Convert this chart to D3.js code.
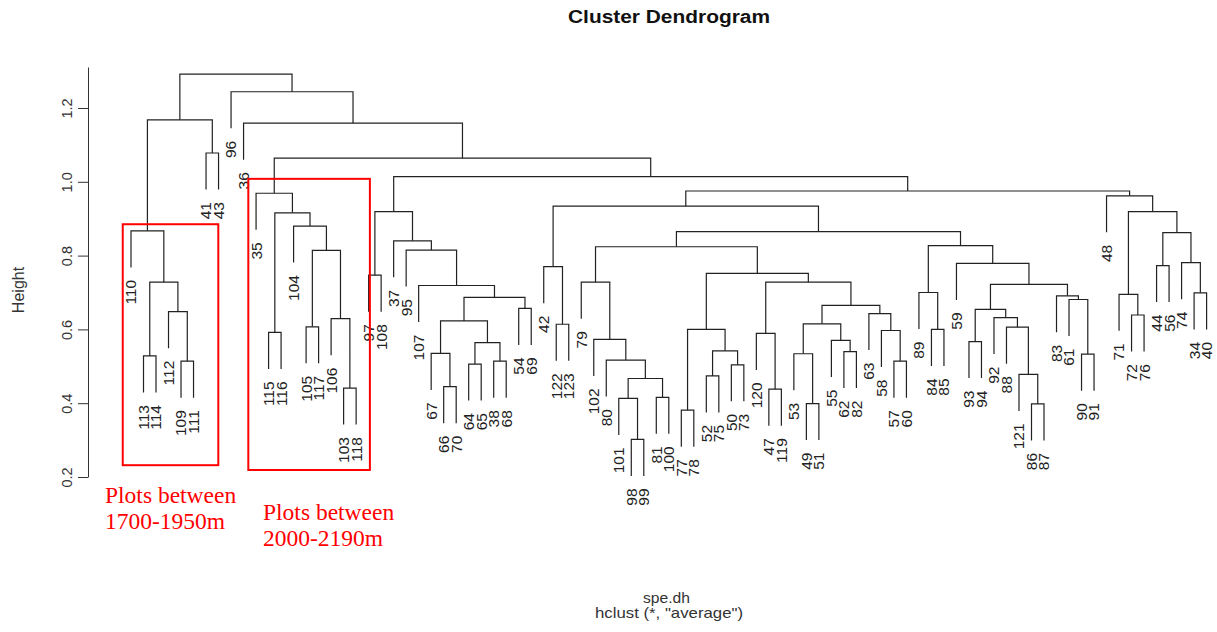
<!DOCTYPE html>
<html>
<head>
<meta charset="utf-8">
<script src="https://cdn.jsdelivr.net/npm/d3@7"></script>
<style>
  body { margin: 0; background: #fff; }
  svg { font-family: "Liberation Sans", Arial, sans-serif; }
</style>
</head>
<body>
<svg id="chart" width="1217" height="632"></svg>
<script>
// hclust merge table (R style):
// negative = leaf label, positive = earlier merge row (1-based)
const mergeLeft = [-113,-109,-112,1,-110,-41,5,-115,-105,-103,-106,9,-104,8,-35,-97,-66,-67,-64,-38,19,18,-54,22,-107,-95,-37,16,-122,-42,-98,-101,-81,32,-80,-102,-79,-77,-52,-50,39,38,-47,-120,-49,-53,-62,-55,46,-57,-58,-63,49,44,42,37,-84,-89,-93,-86,-121,-88,-92,59,-90,-61,-83,64,-59,58,56,30,-72,-71,-44,-34,-74,75,74,-48,72,28,15,-36,-96,7];
const mergeRight = [-114,-111,2,3,4,-43,6,-116,-117,-118,10,11,12,13,14,-108,-70,17,-65,-68,20,21,-69,23,24,25,26,27,-123,29,-99,31,-100,33,34,35,36,-78,-75,-73,40,41,-119,43,-51,45,-82,47,48,-60,50,51,52,53,54,55,-85,57,-94,-87,60,61,62,63,-91,65,66,67,68,69,70,71,-76,73,-56,-40,76,77,78,79,80,81,82,83,84,85];
const mergeHeight = [0.528,0.514,0.648,0.728,0.867,1.078,1.168,
  0.592,0.607,0.441,0.629,0.814,0.880,0.916,0.969,
  0.747,0.445,0.535,0.506,0.514,0.564,0.623,0.657,0.687,0.719,0.815,0.840,0.919,
  0.614,0.770,
  0.302,0.413,0.416,0.467,0.517,0.573,0.728,
  0.381,0.474,0.504,0.542,0.600,0.438,0.589,0.399,0.534,0.540,0.570,0.615,0.514,0.597,0.643,0.665,0.728,0.752,0.824,
  0.600,0.700,0.567,0.398,0.478,0.606,0.632,0.654,0.533,0.681,0.691,0.722,0.779,0.827,0.865,0.934,
  0.639,0.695,0.773,0.699,0.781,0.862,0.919,0.962,0.975,1.014,1.064,1.159,1.244,1.292];

const yTicks = [0.2, 0.4, 0.6, 0.8, 1.0, 1.2];

// red annotation boxes (leaf-index units and heights) and their notes
const boxStart = [-0.66, 9.38];
const boxEnd = [6.98, 19.1];
const boxTop = [0.885, 1.008];
const boxBottom = [0.232, 0.219];
const noteLines = [["Plots between", "1700-1950m"], ["Plots between", "2000-2190m"]];

const titleText = "Cluster Dendrogram";
const subLines = ["spe.dh", 'hclust (*, "average")'];

// layout
const xLeft = 131, xRight = 1206.6;
const noteX = [105, 263], noteY = [502.5, 519.5];

const svg = d3.select("#chart");

// build nested tree from merge rows
function build(ref) {
  if (ref < 0) return { name: String(-ref) };
  const i = ref - 1;
  return { h: mergeHeight[i], children: [build(mergeLeft[i]), build(mergeRight[i])] };
}
const root = d3.hierarchy(build(mergeLeft.length));
d3.cluster().nodeSize([1, 1]).separation(() => 1)(root);

const leaves = root.leaves();
// first leaf sits on xLeft, last on xRight
const xScale = d3.scaleLinear()
  .domain(d3.extent(leaves, d => d.x))
  .range([xLeft, xRight]);
const yScale = d3.scaleLinear().domain([0.2, 1.3111]).range([477, 67]);
const hang = 0.1 * (d3.max(mergeHeight) - d3.min(mergeHeight));

const px = d => xScale(d.x);
const topY = d => d.children ? yScale(d.data.h) : yScale(d.parent.data.h - hang);

// branches
svg.append("g")
  .selectAll("path")
  .data(root.descendants().filter(d => d.children))
  .enter()
  .append("path")
  .attr("fill", "none")
  .attr("stroke", "#222")
  .attr("stroke-width", 1.2)
  .attr("d", d => {
    const [a, b] = d.children;
    return `M${px(a)},${topY(a)}V${yScale(d.data.h)}H${px(b)}V${topY(b)}`;
  });

// leaf labels
svg.append("g")
  .selectAll("text")
  .data(leaves)
  .enter()
  .append("text")
  .attr("transform", d => `translate(${px(d)},${topY(d) + 12.5}) rotate(-90)`)
  .attr("text-anchor", "end")
  .attr("dy", "0.35em")
  .attr("font-size", 15.5)
  .attr("fill", "#222")
  .text(d => d.data.name);

// y axis
const yAxis = d3.axisLeft(yScale)
  .tickValues(yTicks)
  .tickSize(10)
  .tickSizeOuter(0)
  .tickFormat(d3.format(".1f"));

const axisG = svg.append("g")
  .attr("transform", "translate(88,0)")
  .style("color", "#333")
  .call(yAxis);
axisG.attr("font-family", null).attr("font-size", null);
axisG.selectAll(".tick text")
  .attr("x", null)
  .attr("text-anchor", "middle")
  .attr("font-size", 14.5)
  .attr("transform", "translate(-21.5,0) rotate(-90)")
  .attr("dy", "0.35em");

svg.append("text")
  .attr("transform", "translate(18,290) rotate(-90)")
  .attr("text-anchor", "middle")
  .attr("dy", "0.35em")
  .attr("font-size", 16)
  .attr("fill", "#333")
  .text("Height");

// title and sub texts
svg.append("text")
  .attr("x", 568).attr("y", 23)
  .attr("font-size", 18)
  .attr("font-weight", "bold")
  .attr("textLength", 202)
  .attr("lengthAdjust", "spacingAndGlyphs")
  .attr("fill", "#111")
  .text(titleText);

svg.append("text")
  .attr("x", 643).attr("y", 603)
  .attr("font-size", 15)
  .attr("textLength", 47)
  .attr("lengthAdjust", "spacingAndGlyphs")
  .attr("fill", "#333")
  .text(subLines[0]);

svg.append("text")
  .attr("x", 595).attr("y", 618)
  .attr("font-size", 15)
  .attr("textLength", 148)
  .attr("lengthAdjust", "spacingAndGlyphs")
  .attr("fill", "#333")
  .text(subLines[1]);

// red boxes
const idx = d3.scaleLinear().domain([0, leaves.length - 1]).range([xLeft, xRight]);
svg.append("g")
  .selectAll("rect")
  .data(boxStart.map((s, i) => i))
  .enter()
  .append("rect")
  .attr("x", i => idx(boxStart[i]))
  .attr("y", i => yScale(boxTop[i]))
  .attr("width", i => idx(boxEnd[i]) - idx(boxStart[i]))
  .attr("height", i => yScale(boxBottom[i]) - yScale(boxTop[i]))
  .attr("fill", "none")
  .attr("stroke", "#f00")
  .attr("stroke-width", 2);

noteLines.forEach((lines, i) => {
  const t = svg.append("text")
    .style("font-family", '"Liberation Serif", "Times New Roman", serif')
    .attr("font-size", 23.5)
    .attr("fill", "#f00");
  lines.forEach((l, j) => {
    t.append("tspan").attr("x", noteX[i]).attr("y", noteY[i] + j * 26.8).text(l);
  });
});
</script>
</body>
</html>
